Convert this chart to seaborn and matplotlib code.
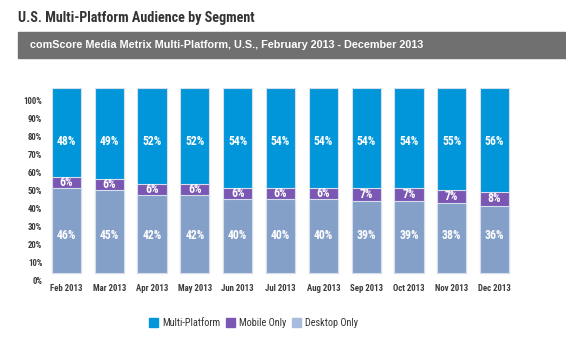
import numpy as np
import matplotlib
matplotlib.use("Agg")
import matplotlib.pyplot as plt
import seaborn as sns
import pandas as pd
from matplotlib.patches import Rectangle, Patch
from matplotlib import font_manager

months = ["Feb 2013", "Mar 2013", "Apr 2013", "May 2013", "Jun 2013", "Jul 2013",
          "Aug 2013", "Sep 2013", "Oct 2013", "Nov 2013", "Dec 2013"]
multi_platform = [48, 49, 52, 52, 54, 54, 54, 54, 54, 55, 56]
mobile_only = [6, 6, 6, 6, 6, 6, 6, 7, 7, 7, 8]
desktop_only = [46, 45, 42, 42, 40, 40, 40, 39, 39, 38, 36]
y_tick_values = [0, 10, 20, 30, 40, 50, 60, 70, 80, 90, 100]
series_names = ["Multi-Platform", "Mobile Only", "Desktop Only"]

sns.set_style("white")
avail = {f.name for f in font_manager.fontManager.ttflist}
cond = [f for f in ["Liberation Sans Narrow", "DejaVu Sans Condensed", "Roboto Condensed"] if f in avail]
COND = cond + ["DejaVu Sans"]
plt.rcParams['font.family'] = COND

C_MULTI = "#0096D9"
C_MOB = "#7A57B2"
C_DESK = "#84A0C8"
EDGE = "#D6DEEC"

fig = plt.figure(figsize=(5.66, 3.62), dpi=100)
W, H = 566, 362
px_per = 1.85
ymin = -5
bottom_px = 273 + 5 * px_per
ax = fig.add_axes([45 / W, 1 - bottom_px / H, (516 - 45) / W, (bottom_px - 88) / H])

df = pd.DataFrame({"month": months,
                   "multi": multi_platform,
                   "mobile": mobile_only,
                   "desktop": desktop_only})
df["top"] = df["desktop"] + df["mobile"] + df["multi"]
df["mid"] = df["desktop"] + df["mobile"]

for col, c in [("top", C_MULTI), ("mid", C_MOB), ("desktop", C_DESK)]:
    sns.barplot(data=df, x="month", y=col, color=c, width=0.68, ax=ax,
                edgecolor=EDGE, linewidth=0.8, saturation=1)

lab_kw = dict(ha="center", va="center", color="white", fontsize=8.5, fontweight="bold")
for i in range(len(months)):
    ax.text(i, 71, f"{multi_platform[i]}%", **lab_kw)
    ax.text(i, desktop_only[i] + mobile_only[i] / 2, f"{mobile_only[i]}%", **lab_kw)
    ax.text(i, 20.5, f"{desktop_only[i]}%", **lab_kw)

ax.set_xlim(-0.5, len(months) - 0.5)
ax.set_ylim(ymin, 100)
ax.set_xlabel("")
ax.set_ylabel("")
tick_pos = np.linspace(-3.8, 93.0, len(y_tick_values))
ax.set_yticks(tick_pos)
ax.set_yticklabels([f"{v}%" for v in y_tick_values])
ax.tick_params(axis="y", length=0, pad=2, labelsize=6.3, labelcolor="#3a3a3a")
ax.tick_params(axis="x", length=0, pad=1.5, labelsize=6.3, labelcolor="#3a3a3a")
for lbl in ax.get_xticklabels() + ax.get_yticklabels():
    lbl.set_fontweight("bold")
for s in ax.spines.values():
    s.set_visible(False)

# title and band
fig.text(18 / W, 1 - 18 / H, "U.S. Multi-Platform Audience by Segment", ha="left", va="center",
         fontsize=10.2, fontweight="bold", color="#333333")
fig.patches.append(Rectangle((18 / W, 1 - 58 / H), (W - 18) / W, 26 / H,
                             transform=fig.transFigure, color="#707070", zorder=0))
fig.text(30 / W, 1 - 45 / H,
         "comScore Media Metrix Multi-Platform, U.S., February 2013 - December 2013",
         ha="left", va="center", fontsize=7.8, fontweight="bold", color="white",
         family=["Liberation Sans", "DejaVu Sans"])

leg_colors = [C_MULTI, C_MOB, "#A8BCDD"]
leg_x = [145, 222, 288]
for name, c, x in zip(series_names, leg_colors, leg_x):
    fig.legend([Patch(color=c)], [name], loc="center left", bbox_to_anchor=(x / W, 1 - 323 / H),
               frameon=False, handlelength=0.9, handleheight=0.9, borderaxespad=0,
               handletextpad=0.35, labelcolor="#333333", prop={"size": 7.4})

fig.savefig("out.png", dpi=100)
